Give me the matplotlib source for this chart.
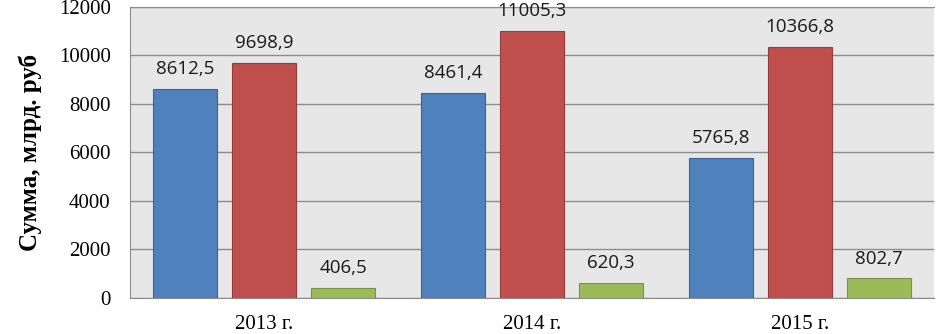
import matplotlib.pyplot as plt
import numpy as np

# Data
years = ['2013 г.', '2014 г.', '2015 г.']
series_blue = [8612.5, 8461.4, 5765.8]
series_red = [9698.9, 11005.3, 10366.8]
series_green = [406.5, 620.3, 802.7]
y_ticks = [0, 2000, 4000, 6000, 8000, 10000, 12000]

fig = plt.figure(figsize=(9.36, 3.34), dpi=100)
ax = fig.add_axes([0.139, 0.108, 0.859, 0.871])
ax.set_facecolor('#E7E7E7')

x = np.arange(len(years))
width = 0.239
offset = 0.295

colors = ['#4F81BD', '#C0504D', '#9BBB59']
edges = ['#3A6592', '#963D3B', '#779345']
all_series = [series_blue, series_red, series_green]

for i, (vals, c, e) in enumerate(zip(all_series, colors, edges)):
    pos = x + (i - 1) * offset
    ax.bar(pos, vals, width=width, color=c, edgecolor=e, linewidth=0.8, zorder=3)
    for p, v in zip(pos, vals):
        ax.text(p, v + 450, f'{v:.1f}'.replace('.', ','), ha='center', va='bottom',
                fontsize=13.5, family='Open Sans', color='#1a1a1a', zorder=4)

ax.set_xlim(-0.5, 2.5)
ax.set_ylim(0, 12000)
ax.set_yticks(y_ticks)
ax.set_yticklabels([str(t) for t in y_ticks], family='Liberation Serif', fontsize=15)
ax.set_xticks(x)
ax.set_xticklabels(years, family='Liberation Serif', fontsize=15)
ax.tick_params(axis='both', length=0)
ax.tick_params(axis='y', pad=14)
ax.tick_params(axis='x', pad=12)

ax.yaxis.grid(True, color='#8C8C8C', linewidth=1.0, zorder=0)
ax.set_axisbelow(True)

ax.spines['right'].set_visible(False)
for s in ['top', 'left', 'bottom']:
    ax.spines[s].set_color('#8C8C8C')

ax.set_ylabel('Сумма, млрд. руб', family='Liberation Serif', fontsize=18,
              fontweight='bold', labelpad=12)

fig.savefig('out.png', dpi=100)
